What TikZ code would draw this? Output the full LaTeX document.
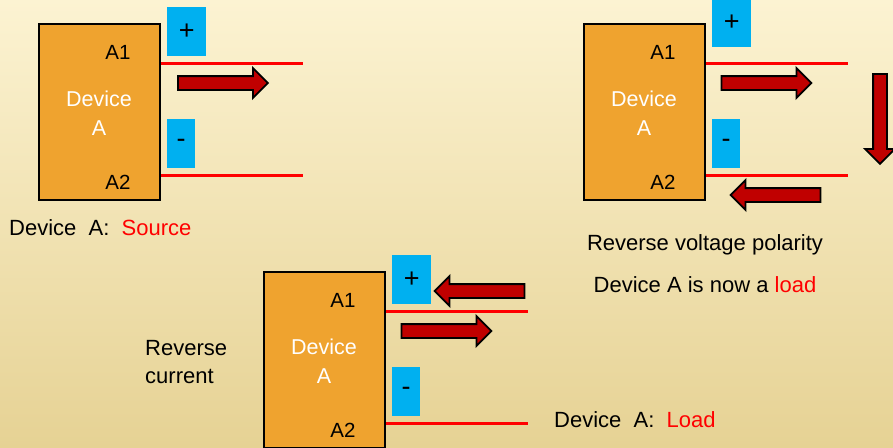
\documentclass[tikz,border=0pt]{standalone}
\usepackage{fontspec}
\setmainfont{Liberation Sans}
\usetikzlibrary{positioning,shapes.arrows}
\definecolor{devfill}{HTML}{EFA32F}
\definecolor{polblue}{HTML}{00B0F0}
\definecolor{flow}{HTML}{C00000}
\definecolor{wirered}{HTML}{FF0000}
\definecolor{bgtop}{HTML}{FCF3D2}
\definecolor{bgbot}{HTML}{E6D294}

\begin{document}
\begin{tikzpicture}[
  x=1pt,y=-1pt,
  dev/.style={draw=black,line width=2pt,fill=devfill,minimum width=121pt,minimum height=176pt,inner sep=0pt,anchor=north west},
  pin/.style={font=\fontsize{20.5}{24}\selectfont,inner sep=0pt},
  devname/.style={text=white,align=center,font=\fontsize{21.5}{29}\selectfont,inner sep=0pt},
  pol/.style={fill=polblue,inner sep=0pt,anchor=north west,minimum height=49pt,font=\fontsize{27}{28}\selectfont},
  wire/.style={draw=wirered,line width=3pt},
  flowarr/.style={single arrow,draw=black,line width=1.8pt,fill=flow,minimum height=90pt,inner xsep=0pt,inner ysep=6pt,single arrow head extend=8pt,single arrow tip angle=90},
  caption/.style={font=\fontsize{22}{28}\selectfont,inner sep=0pt}
]
\clip (0,0) rectangle (893,447);
\shade[top color=bgtop,bottom color=bgbot] (0,0) rectangle (893,447);

% the same device drawn three times
\foreach \p/\dx/\dy/\py in {1/0/0/7,2/545/0/-2,3/225/248/7}{
  \begin{scope}[shift={(\dx,\dy)}]
    \node[dev] (dev\p) at (38,23) {};
    \node[pin] (a1\p) at (118,52) {A1};
    \node[pin] (a2\p) at (118,182) {A2};
    \node[devname] (name\p) at (99,113) {Device\\A};
    \node[pol,minimum width=39pt] (plus\p) at (167,\py) {+};
    \node[pol,minimum width=28pt] (minus\p) at (167,119) {-};
    \coordinate (top\p) at (303,63);
    \coordinate (bot\p) at (303,175);
  \end{scope}
  \draw[wire] (top\p -| dev\p.east) -- (top\p);
  \draw[wire] (bot\p -| dev\p.east) -- (bot\p);
}

\node[flowarr] (f1) at (219.5,83) {};
\node[flowarr] (f2) at (763,83) {};
\node[flowarr,rotate=-90] (f3) at (880,115.5) {};
\node[flowarr,rotate=180] (f4) at (779,195) {};
\node[flowarr,rotate=180] (f5) at (483,291) {};
\node[flowarr] (f6) at (443,331) {};

\node[caption,anchor=west] (cap1) at (9,228) {Device\ \ A:\ \ \textcolor{red}{Source}};
\node[caption] (cap2) at (705,245) {Reverse voltage polarity};
\node[caption] (cap3) at (705,285) {Device A is now a \textcolor{red}{load}};
\node[caption,align=left,anchor=west] (cap4) at (145,362) {Reverse\\current};
\node[caption,anchor=west] (cap5) at (554,420) {Device\ \ A:\ \ \textcolor{red}{Load}};
\end{tikzpicture}
\end{document}
